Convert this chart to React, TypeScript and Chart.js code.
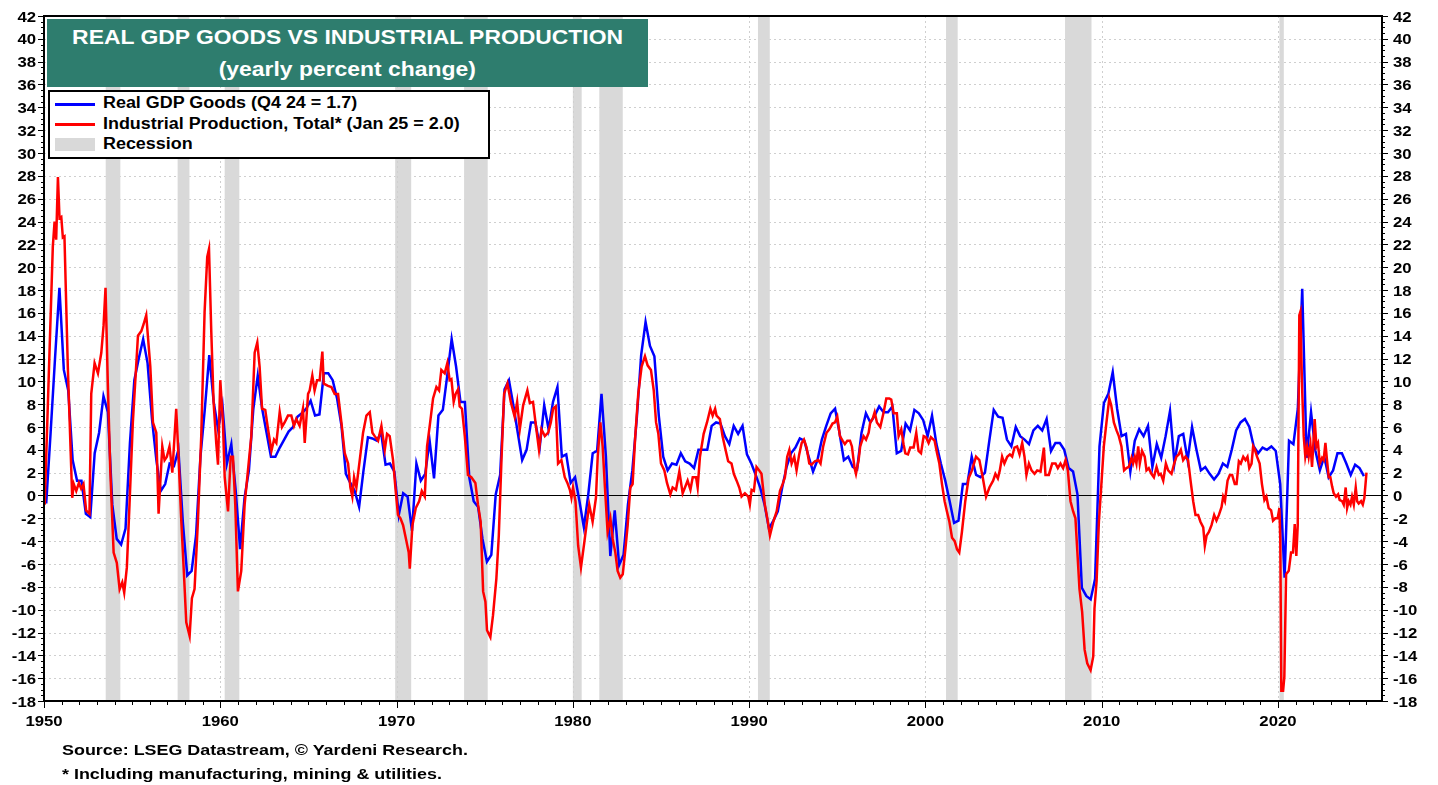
import React, { useEffect, useRef } from "react";
import { Chart, registerables } from "chart.js";

Chart.register(...registerables);

// ---------------- DATA ----------------
// Real GDP Goods, yearly % change, quarterly (Q1..Q4 per year)
const gdp1950s = [-0.7, 5.5, 12.0, 18.2, 11.0, 9.2, 3.1, 1.3, 1.3, -1.6, -1.9, 3.7, 5.5, 8.7, 7.3, -0.8, -3.8, -4.3, -2.9, 4.6, 10.1, 12.0, 13.7, 11.6, 6.7, 3.1, 0.4, 1.0, 2.8, 2.6, 4.0, -2.3, -7.0, -6.6, -3.5, 3.4, 7.6, 12.3, 8.2, 5.8];
const gdp1960s = [7.9, 2.8, 4.5, 0.4, -4.7, -0.2, 2.2, 7.6, 10.5, 7.6, 5.5, 3.4, 3.4, 4.2, 4.9, 5.6, 6.0, 6.9, 7.2, 7.6, 8.3, 7.0, 7.1, 10.7, 10.7, 10.1, 8.5, 6.1, 1.9, 1.1, 0.4, -1.0, 2.2, 5.1, 5.0, 4.8, 5.5, 2.7, 2.8, 2.1];
const gdp1970s = [-1.7, 0.2, -0.1, -3.1, 2.8, 1.3, 1.9, 4.8, 1.5, 7.0, 7.5, 10.5, 13.7, 11.3, 8.2, 8.2, 1.6, -0.5, -1.0, -3.8, -5.8, -5.2, 0.1, 1.8, 9.3, 10.1, 7.9, 5.5, 3.1, 4.0, 6.4, 6.4, 4.3, 7.9, 5.8, 8.2, 9.5, 3.4, 3.6, 1.1];
const gdp1980s = [1.6, -0.5, -2.8, 0.1, 3.7, 3.9, 8.9, 3.4, -5.3, -1.3, -6.1, -5.2, -0.8, 2.2, 6.7, 12.3, 15.2, 13.1, 12.2, 7.0, 3.4, 2.2, 2.8, 2.7, 3.7, 3.0, 2.8, 2.4, 4.0, 4.0, 4.0, 6.1, 6.4, 6.3, 5.2, 4.5, 6.1, 5.4, 6.1, 3.6];
const gdp1990s = [2.8, 1.8, 0.7, -0.8, -2.9, -2.2, -1.4, 0.7, 2.5, 3.7, 4.2, 5.0, 4.8, 3.4, 2.1, 3.1, 4.9, 6.1, 7.2, 7.6, 5.5, 3.1, 3.4, 2.5, 2.3, 5.5, 7.2, 6.4, 7.0, 7.8, 7.3, 7.3, 7.8, 3.7, 3.9, 6.3, 5.7, 7.5, 7.2, 6.6];
const gdp2000s = [5.2, 7.0, 4.5, 2.8, 1.3, -0.5, -2.4, -2.2, 1.0, 1.0, 3.4, 1.8, 1.6, 2.0, 4.8, 7.5, 6.9, 6.8, 4.9, 4.3, 6.0, 5.2, 4.9, 4.5, 5.7, 6.1, 5.7, 6.7, 3.9, 4.6, 4.6, 4.0, 2.4, 2.1, 0.1, -8.1, -8.8, -9.1, -7.3, 4.3];
const gdp2010s = [8.1, 8.9, 10.8, 7.6, 5.2, 5.4, 2.1, 4.8, 5.8, 5.2, 6.1, 2.5, 4.5, 3.3, 5.2, 7.4, 2.8, 5.2, 5.4, 3.1, 6.0, 4.0, 2.2, 2.5, 1.9, 1.4, 1.9, 2.8, 2.5, 4.0, 5.7, 6.4, 6.7, 6.0, 4.3, 3.7, 4.2, 4.0, 4.3, 3.9];
const gdp2020s = [1.0, -7.2, 4.8, 4.5, 7.6, 18.1, 3.3, 7.3, 3.9, 2.2, 3.4, 1.6, 2.2, 3.7, 3.7, 2.8, 1.8, 2.7, 2.4, 1.7];

// Industrial Production, Total, yearly % change: [decimal year, value]
const ip1950s: [number, number][] = [[1950.04,-0.8],[1950.50,21.8],[1950.60,24.0],[1950.69,22.4],[1950.79,27.9],[1950.88,24.3],[1950.98,24.4],[1951.07,22.6],[1951.16,22.7],[1951.35,11.3],[1951.60,-0.2],[1951.69,1.0],[1951.83,0.4],[1951.98,1.1],[1952.11,0.6],[1952.24,1.0],[1952.39,-1.3],[1952.58,-1.6],[1952.68,8.9],[1952.87,11.6],[1953.06,10.7],[1953.25,12.5],[1953.38,14.9],[1953.49,18.2],[1953.62,9.8],[1953.76,2.2],[1953.95,-5.0],[1954.13,-5.9],[1954.29,-8.2],[1954.44,-7.6],[1954.55,-8.5],[1954.70,-6.3],[1954.85,-0.8],[1955.04,6.4],[1955.33,14.0],[1955.52,14.4],[1955.65,15.0],[1955.80,15.8],[1956.03,11.3],[1956.18,6.4],[1956.37,5.5],[1956.50,-1.6],[1956.71,4.3],[1956.84,3.1],[1956.97,3.4],[1957.12,4.3],[1957.28,2.0],[1957.50,7.6],[1957.64,3.1],[1957.79,-2.3],[1957.94,-6.9],[1958.07,-11.1],[1958.26,-12.3],[1958.39,-9.0],[1958.54,-8.2],[1958.73,-2.3],[1958.92,5.2],[1959.11,16.1],[1959.26,20.9],[1959.36,21.6],[1959.49,14.3],[1959.62,8.2],[1959.77,4.6],[1959.87,2.7]];
const ip1960s: [number, number][] = [[1960.00,10.1],[1960.15,6.4],[1960.25,1.6],[1960.44,-1.4],[1960.59,3.4],[1960.72,3.4],[1960.85,-0.8],[1961.00,-8.4],[1961.19,-6.6],[1961.38,-0.8],[1961.57,2.2],[1961.76,5.2],[1961.95,12.5],[1962.10,13.4],[1962.23,11.3],[1962.37,7.6],[1962.55,7.5],[1962.71,5.8],[1962.90,3.9],[1963.05,4.9],[1963.18,4.6],[1963.37,7.3],[1963.50,6.0],[1963.65,6.4],[1963.84,7.0],[1964.03,7.0],[1964.18,6.1],[1964.31,6.7],[1964.50,6.1],[1964.69,7.6],[1964.79,4.6],[1964.98,8.9],[1965.07,9.2],[1965.22,10.5],[1965.35,9.2],[1965.49,10.1],[1965.64,10.1],[1965.79,12.6],[1965.87,9.8],[1966.11,9.6],[1966.30,9.5],[1966.49,8.9],[1966.68,8.9],[1966.87,6.4],[1967.06,3.7],[1967.25,2.8],[1967.38,0.7],[1967.49,-0.1],[1967.59,1.6],[1967.72,0.7],[1967.91,3.1],[1968.10,5.5],[1968.29,7.0],[1968.48,7.3],[1968.63,5.5],[1968.76,5.2],[1968.95,4.8],[1969.14,6.1],[1969.33,4.0],[1969.46,5.4],[1969.61,5.2],[1969.80,3.1],[1969.95,0.4]];
const ip1970s: [number, number][] = [[1970.08,-1.7],[1970.22,-2.0],[1970.37,-2.6],[1970.56,-4.0],[1970.69,-5.0],[1970.75,-6.4],[1970.90,-2.6],[1971.09,-1.1],[1971.28,-0.5],[1971.43,0.4],[1971.60,-0.1],[1971.73,4.3],[1971.88,6.1],[1972.07,8.5],[1972.26,9.5],[1972.41,9.2],[1972.54,11.0],[1972.73,10.7],[1972.88,11.6],[1973.01,10.1],[1973.11,10.2],[1973.24,8.2],[1973.35,8.9],[1973.49,9.3],[1973.58,7.8],[1973.71,7.6],[1973.87,5.2],[1974.05,1.8],[1974.24,1.6],[1974.47,1.1],[1974.62,-0.8],[1974.77,-2.3],[1974.91,-8.4],[1975.04,-9.3],[1975.13,-11.8],[1975.32,-12.4],[1975.47,-10.5],[1975.66,-7.3],[1975.80,-3.5],[1975.95,3.1],[1976.10,8.9],[1976.29,9.8],[1976.48,8.2],[1976.70,6.9],[1976.84,8.2],[1976.99,5.8],[1977.18,7.9],[1977.42,9.2],[1977.56,8.1],[1977.74,8.2],[1977.93,5.8],[1978.08,4.0],[1978.22,5.8],[1978.41,5.2],[1978.60,5.5],[1978.75,6.4],[1978.88,7.6],[1979.03,7.8],[1979.16,2.8],[1979.35,3.1],[1979.54,1.6],[1979.69,1.1],[1979.83,0.5],[1979.92,-0.2]];
const ip1980s: [number, number][] = [[1980.01,0.7],[1980.15,-0.5],[1980.30,-4.4],[1980.46,-6.3],[1980.65,-4.1],[1980.80,-2.3],[1980.93,-0.8],[1981.12,-2.3],[1981.31,-0.2],[1981.41,3.4],[1981.56,6.4],[1981.69,4.3],[1981.82,0.7],[1981.97,-3.2],[1982.13,-2.0],[1982.26,-3.8],[1982.41,-5.0],[1982.54,-6.6],[1982.69,-7.2],[1982.83,-6.9],[1982.98,-4.7],[1983.11,-2.6],[1983.26,0.7],[1983.39,1.0],[1983.54,5.2],[1983.71,8.9],[1983.90,11.3],[1984.09,12.2],[1984.24,11.4],[1984.43,11.0],[1984.59,9.2],[1984.72,6.4],[1984.85,5.4],[1985.00,2.8],[1985.19,2.2],[1985.34,1.1],[1985.53,0.1],[1985.66,0.7],[1985.85,0.5],[1986.04,2.1],[1986.23,0.2],[1986.36,0.7],[1986.51,1.3],[1986.67,0.5],[1986.80,1.6],[1986.99,1.6],[1987.08,0.7],[1987.21,3.4],[1987.42,5.4],[1987.61,6.4],[1987.80,7.6],[1987.93,7.0],[1988.07,7.6],[1988.15,7.0],[1988.34,6.7],[1988.49,5.2],[1988.62,4.3],[1988.81,3.0],[1989.00,2.8],[1989.13,1.9],[1989.29,1.3],[1989.44,0.7],[1989.57,-0.1],[1989.76,0.2],[1989.95,-0.1]];
const ip1990s: [number, number][] = [[1990.04,-0.8],[1990.14,0.5],[1990.27,0.4],[1990.42,2.5],[1990.57,2.2],[1990.70,1.9],[1990.89,-0.8],[1991.03,-2.0],[1991.18,-3.5],[1991.37,-2.3],[1991.56,-1.4],[1991.75,0.4],[1991.90,1.0],[1992.03,1.6],[1992.16,3.4],[1992.28,4.0],[1992.41,2.8],[1992.56,3.4],[1992.69,2.2],[1992.84,3.6],[1992.98,4.6],[1993.11,4.9],[1993.26,4.2],[1993.41,2.8],[1993.54,2.7],[1993.73,3.0],[1993.92,3.1],[1994.05,2.8],[1994.20,4.3],[1994.39,5.5],[1994.55,5.8],[1994.73,6.3],[1994.87,6.4],[1995.00,6.9],[1995.15,5.2],[1995.30,4.8],[1995.43,4.5],[1995.57,4.8],[1995.72,4.8],[1995.83,4.3],[1995.98,2.4],[1996.06,1.9],[1996.21,3.1],[1996.30,4.3],[1996.49,5.2],[1996.63,4.9],[1996.78,5.5],[1996.87,6.4],[1997.00,6.7],[1997.12,7.3],[1997.25,6.4],[1997.44,6.0],[1997.63,7.3],[1997.78,8.5],[1997.95,8.5],[1998.06,8.4],[1998.20,7.2],[1998.38,7.2],[1998.48,5.2],[1998.63,5.8],[1998.76,4.5],[1998.86,3.7],[1999.01,3.6],[1999.14,4.2],[1999.33,4.2],[1999.48,5.5],[1999.61,3.9],[1999.75,3.7],[1999.90,5.2]];
const ip2000s: [number, number][] = [[2000.03,5.1],[2000.18,4.6],[2000.31,5.1],[2000.52,4.8],[2000.66,3.7],[2000.79,2.8],[2000.94,1.0],[2001.09,-0.5],[2001.22,-1.4],[2001.36,-2.3],[2001.51,-3.7],[2001.66,-4.0],[2001.79,-4.7],[2001.92,-5.0],[2002.07,-3.2],[2002.26,-0.5],[2002.45,1.5],[2002.64,2.2],[2002.87,3.4],[2003.06,3.1],[2003.25,1.6],[2003.44,-0.1],[2003.63,0.7],[2003.84,1.3],[2003.97,1.9],[2004.11,1.5],[2004.22,2.2],[2004.35,3.4],[2004.48,2.8],[2004.64,3.4],[2004.79,3.6],[2004.92,3.4],[2005.05,4.2],[2005.20,4.3],[2005.34,3.6],[2005.49,4.6],[2005.62,3.4],[2005.73,1.8],[2005.87,2.8],[2006.02,2.2],[2006.19,1.9],[2006.34,2.2],[2006.53,2.1],[2006.72,4.2],[2006.81,1.8],[2007.00,1.8],[2007.19,2.8],[2007.38,2.8],[2007.51,2.4],[2007.66,2.8],[2007.81,2.4],[2007.95,3.1],[2008.08,2.2],[2008.23,-0.5],[2008.38,-1.4],[2008.51,-2.0],[2008.61,-4.7],[2008.74,-8.2],[2008.89,-10.2],[2009.03,-13.5],[2009.18,-14.7],[2009.37,-15.3],[2009.52,-14.1],[2009.59,-9.9],[2009.71,-7.5],[2009.84,-2.3],[2009.97,0.7]];
const ip2010s: [number, number][] = [[2010.12,4.3],[2010.27,6.4],[2010.43,8.5],[2010.54,7.9],[2010.69,6.4],[2010.84,5.7],[2010.97,5.2],[2011.12,4.3],[2011.27,2.2],[2011.40,2.4],[2011.54,2.5],[2011.69,3.3],[2011.78,2.8],[2011.88,3.4],[2011.97,2.8],[2012.07,4.3],[2012.16,2.8],[2012.29,3.9],[2012.44,3.4],[2012.54,2.2],[2012.67,2.4],[2012.82,1.9],[2012.96,1.6],[2013.11,2.5],[2013.24,1.8],[2013.35,1.9],[2013.49,1.3],[2013.64,2.8],[2013.77,2.2],[2013.96,1.9],[2014.11,2.8],[2014.24,3.4],[2014.37,3.6],[2014.49,4.0],[2014.62,3.1],[2014.75,3.4],[2014.90,3.1],[2015.04,1.3],[2015.19,-0.5],[2015.32,-1.7],[2015.47,-1.7],[2015.60,-2.3],[2015.76,-2.8],[2015.85,-4.4],[2015.95,-3.5],[2016.08,-3.2],[2016.23,-2.6],[2016.38,-1.7],[2016.51,-2.2],[2016.65,-1.7],[2016.80,-1.0],[2016.89,-0.1],[2016.99,-0.5],[2017.14,1.3],[2017.27,1.8],[2017.40,1.8],[2017.55,1.0],[2017.65,1.0],[2017.78,3.0],[2017.89,2.8],[2018.03,3.4],[2018.16,3.1],[2018.27,3.4],[2018.37,2.4],[2018.50,2.8],[2018.59,4.3],[2018.69,4.0],[2018.81,3.4],[2018.96,2.8],[2019.09,1.0],[2019.23,-0.4],[2019.34,-0.1],[2019.47,-1.1],[2019.61,-1.3],[2019.72,-2.2],[2019.85,-2.0],[2019.98,-2.0]];
const ip2020s: [number, number][] = [[2020.08,-1.1],[2020.13,-3.8],[2020.19,-17.1],[2020.29,-17.1],[2020.36,-15.9],[2020.46,-6.9],[2020.61,-6.6],[2020.74,-5.0],[2020.85,-5.0],[2020.95,-2.5],[2021.04,-5.3],[2021.12,-2.6],[2021.21,15.8],[2021.27,16.1],[2021.36,9.8],[2021.46,5.2],[2021.55,3.4],[2021.65,4.3],[2021.74,3.4],[2021.84,4.5],[2021.93,2.5],[2022.03,5.2],[2022.08,6.7],[2022.18,4.3],[2022.27,4.6],[2022.37,2.8],[2022.50,3.3],[2022.59,3.1],[2022.69,4.6],[2022.78,3.1],[2022.88,1.6],[2022.97,1.6],[2023.07,0.8],[2023.16,0.2],[2023.29,-0.1],[2023.41,0.1],[2023.50,-0.4],[2023.64,-0.5],[2023.73,-0.8],[2023.84,0.7],[2023.92,-1.1],[2024.01,-0.5],[2024.11,-0.8],[2024.20,-0.1],[2024.30,-0.8],[2024.41,0.7],[2024.49,-0.5],[2024.58,-0.7],[2024.71,-0.5],[2024.81,-0.8],[2024.90,-0.2],[2025.02,2.0]];

// Recession periods (start, end) as decimal years
const recessions: [number, number][] = [[1953.50, 1954.33], [1957.58, 1958.25], [1960.25, 1961.08], [1969.92, 1970.83], [1973.83, 1975.17], [1980.0, 1980.5], [1981.5, 1982.83], [1990.5, 1991.17], [2001.17, 2001.83], [2007.92, 2009.42], [2020.08, 2020.33]];

// Tick labels
const xTickLabels = [1950, 1960, 1970, 1980, 1990, 2000, 2010, 2020];
const yTickLabels = [-18, -16, -14, -12, -10, -8, -6, -4, -2, 0, 2, 4, 6, 8, 10, 12, 14, 16, 18, 20, 22, 24, 26, 28, 30, 32, 34, 36, 38, 40, 42];

const titleLines = ["REAL GDP GOODS VS INDUSTRIAL PRODUCTION", "(yearly percent change)"];
const legendLabels = ["Real GDP Goods (Q4 24 = 1.7)", "Industrial Production, Total* (Jan 25 = 2.0)", "Recession"];
const footerLines = ["Source: LSEG Datastream, \u00A9 Yardeni Research.", "* Including manufacturing, mining & utilities."];

// ---------------- STYLE ----------------
const X_MIN = 1950;
const X_MAX = 2025.9;
const Y_MIN = -18;
const Y_MAX = 42;
const FONT = 'Arial, "Liberation Sans", Helvetica, sans-serif';
const TEAL = "#2E7D6E";
const BAND = "#d9d9d9";
const GRID = "#cfcfcf";
const BLUE = "#0000ff";
const RED = "#ff0000";
const TICK_FONT = `bold 15.5px ${FONT}`;
const TICK_STRETCH = 1.08;

function drawText(ctx: CanvasRenderingContext2D, text: string, x: number, y: number, align: string, sx: number) {
  ctx.save();
  ctx.font = TICK_FONT;
  ctx.textBaseline = "alphabetic";
  ctx.textAlign = "left";
  const w = ctx.measureText(text).width * sx;
  let x0 = x;
  if (align === "right") x0 = x - w;
  else if (align === "center") x0 = x - w / 2;
  ctx.translate(x0, y);
  ctx.scale(sx, 1);
  ctx.fillStyle = "#000";
  ctx.fillText(text, 0, 0);
  ctx.restore();
}

const backdropPlugin = {
  id: "backdrop",
  beforeDatasetsDraw(chart: any) {
    const { ctx, chartArea: a, scales } = chart;
    const x = scales.x;
    const y = scales.y;
    ctx.save();
    // horizontal dotted grid
    ctx.strokeStyle = GRID;
    ctx.lineWidth = 1;
    ctx.setLineDash([2, 3]);
    for (const v of yTickLabels) {
      if (v === Y_MIN || v === Y_MAX || v === 0) continue;
      const py = Math.round(y.getPixelForValue(v)) + 0.5;
      ctx.beginPath();
      ctx.moveTo(a.left, py);
      ctx.lineTo(a.right, py);
      ctx.stroke();
    }
    // recession bands
    ctx.setLineDash([]);
    ctx.fillStyle = BAND;
    for (const [s, e] of recessions) {
      const x1 = x.getPixelForValue(s);
      const x2 = x.getPixelForValue(e);
      ctx.fillRect(x1, a.top, x2 - x1, a.bottom - a.top);
    }
    // vertical dotted grid at decades
    ctx.strokeStyle = GRID;
    ctx.setLineDash([2, 3]);
    for (const v of xTickLabels) {
      if (v === X_MIN) continue;
      const px = Math.round(x.getPixelForValue(v)) + 0.5;
      ctx.beginPath();
      ctx.moveTo(px, a.top);
      ctx.lineTo(px, a.bottom);
      ctx.stroke();
    }
    // zero line
    ctx.setLineDash([]);
    ctx.strokeStyle = "#000";
    ctx.lineWidth = 1;
    const p0 = Math.round(y.getPixelForValue(0)) + 0.5;
    ctx.beginPath();
    ctx.moveTo(a.left, p0);
    ctx.lineTo(a.right, p0);
    ctx.stroke();
    ctx.restore();
  },
};

const axesPlugin = {
  id: "axesFrame",
  afterDatasetsDraw(chart: any) {
    const { ctx, chartArea: a, scales } = chart;
    const x = scales.x;
    const y = scales.y;
    ctx.save();
    ctx.strokeStyle = "#000";
    ctx.lineWidth = 2;
    ctx.strokeRect(a.left, a.top, a.right - a.left, a.bottom - a.top);
    ctx.lineWidth = 1;
    // y ticks, major every 2, minor every 0.5
    for (let v = Y_MIN; v <= Y_MAX + 1e-6; v += 0.5) {
      const py = Math.round(y.getPixelForValue(v)) + 0.5;
      const major = Math.abs(v % 2) < 1e-6;
      const len = major ? 6 : 3;
      ctx.beginPath();
      ctx.moveTo(a.left - len, py);
      ctx.lineTo(a.left, py);
      ctx.moveTo(a.right, py);
      ctx.lineTo(a.right + len, py);
      ctx.stroke();
    }
    // x ticks, major every decade, minor every year
    for (let yr = X_MIN; yr <= Math.floor(X_MAX); yr++) {
      const px = Math.round(x.getPixelForValue(yr)) + 0.5;
      const len = yr % 10 === 0 ? 7 : 4;
      ctx.beginPath();
      ctx.moveTo(px, a.bottom);
      ctx.lineTo(px, a.bottom + len);
      ctx.stroke();
    }
    ctx.restore();
    // labels
    for (const v of yTickLabels) {
      const py = y.getPixelForValue(v) + 5.5;
      drawText(ctx, String(v), a.left - 8, py, "right", TICK_STRETCH);
      drawText(ctx, String(v), a.right + 11, py, "left", TICK_STRETCH);
    }
    for (const v of xTickLabels) {
      drawText(ctx, String(v), x.getPixelForValue(v), a.bottom + 25, "center", TICK_STRETCH);
    }
  },
};

export default function App() {
  const ref = useRef<HTMLCanvasElement>(null);

  useEffect(() => {
    const gdpAll = [...gdp1950s, ...gdp1960s, ...gdp1970s, ...gdp1980s, ...gdp1990s, ...gdp2000s, ...gdp2010s, ...gdp2020s];
    const blueData = gdpAll.map((v, i) => ({ x: 1950 + i / 4 + 0.125, y: v }));
    const ipAll = [...ip1950s, ...ip1960s, ...ip1970s, ...ip1980s, ...ip1990s, ...ip2000s, ...ip2010s, ...ip2020s];
    const redData = ipAll.map(([xv, yv]) => ({ x: xv, y: yv }));

    const chart = new Chart(ref.current as HTMLCanvasElement, {
      type: "line",
      data: {
        datasets: [
          { label: legendLabels[1], data: redData, borderColor: RED, backgroundColor: RED, borderWidth: 2.5, pointRadius: 0, tension: 0, fill: false, order: 1 },
          { label: legendLabels[0], data: blueData, borderColor: BLUE, backgroundColor: BLUE, borderWidth: 2.5, pointRadius: 0, tension: 0, fill: false, order: 2 },
        ],
      },
      options: {
        animation: false,
        responsive: false,
        devicePixelRatio: 1,
        events: [],
        layout: { padding: { left: 44, right: 56, top: 16, bottom: 84 } },
        scales: {
          x: { type: "linear", min: X_MIN, max: X_MAX, display: false },
          y: { type: "linear", min: Y_MIN, max: Y_MAX, display: false },
        },
        plugins: { legend: { display: false }, tooltip: { enabled: false }, title: { display: false } },
      } as any,
      plugins: [backdropPlugin, axesPlugin],
    });
    return () => chart.destroy();
  }, []);

  const stretch = (s: number, origin = "left"): React.CSSProperties => ({ display: "inline-block", transform: `scaleX(${s})`, transformOrigin: origin });

  return (
    <div style={{ position: "absolute", left: 0, top: 0, width: 1438, height: 785, background: "#fff", overflow: "hidden" }}>
      <canvas ref={ref} width={1438} height={785} style={{ position: "absolute", left: 0, top: 0, width: 1438, height: 785 }} />
      {/* Title box */}
      <div style={{ position: "absolute", left: 47, top: 19, width: 601, height: 68, background: TEAL }} />
      <div style={{ position: "absolute", left: 47, top: 27.4, width: 601, textAlign: "center", color: "#fff", font: `bold 20px ${FONT}`, lineHeight: "20px", whiteSpace: "nowrap" }}>
        <span style={stretch(1.145, "center")}>{titleLines[0]}</span>
      </div>
      <div style={{ position: "absolute", left: 47, top: 59.1, width: 601, textAlign: "center", color: "#fff", font: `bold 20px ${FONT}`, lineHeight: "20px", whiteSpace: "nowrap" }}>
        <span style={stretch(1.145, "center")}>{titleLines[1]}</span>
      </div>
      {/* Legend box */}
      <div style={{ position: "absolute", left: 48, top: 90, width: 442, height: 69, boxSizing: "border-box", border: "2px solid #000", background: "#fff" }} />
      <div style={{ position: "absolute", left: 55, top: 102.8, width: 40, height: 3, background: BLUE }} />
      <div style={{ position: "absolute", left: 55, top: 122.8, width: 40, height: 3, background: RED }} />
      <div style={{ position: "absolute", left: 55, top: 138, width: 40, height: 13, background: BAND }} />
      {legendLabels.map((t, i) => (
        <div key={t} style={{ position: "absolute", left: 103, top: 95.4 + i * 20.2, color: "#000", font: `bold 16px ${FONT}`, lineHeight: "16px", whiteSpace: "nowrap" }}>
          <span style={stretch(1.12)}>{t}</span>
        </div>
      ))}
      {/* Footer */}
      {footerLines.map((t, i) => (
        <div key={t} style={{ position: "absolute", left: 62, top: 741.9 + i * 24, color: "#000", font: `bold 15.5px ${FONT}`, lineHeight: "16px", whiteSpace: "nowrap" }}>
          <span style={stretch(1.155)}>{t}</span>
        </div>
      ))}
    </div>
  );
}
